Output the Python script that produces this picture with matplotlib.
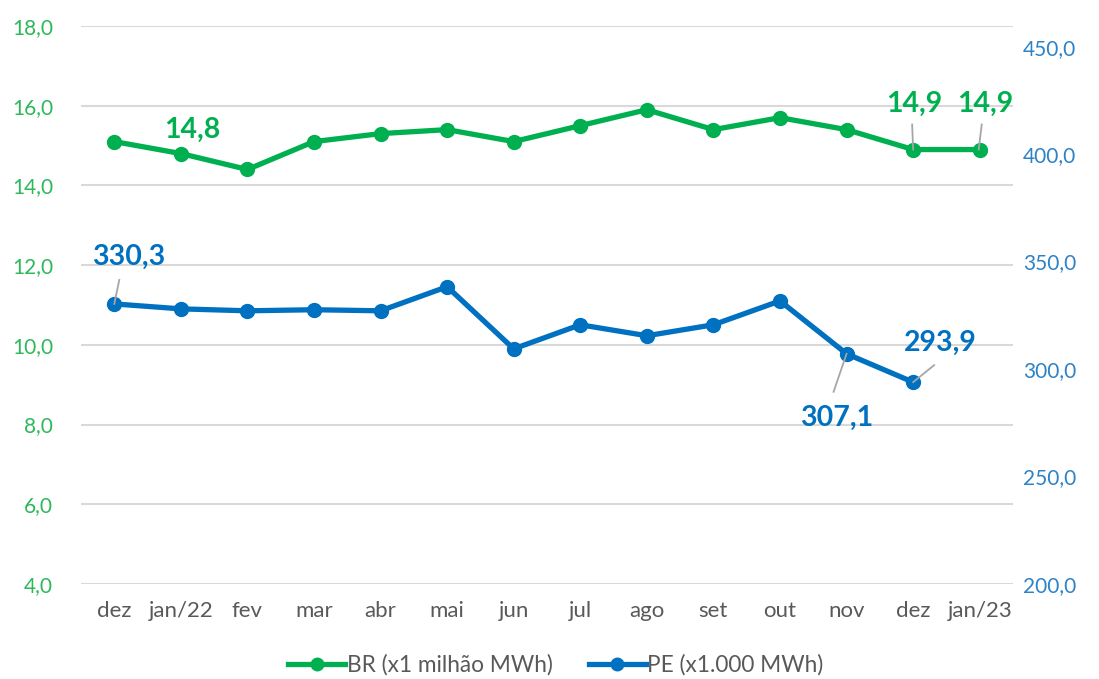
import matplotlib
matplotlib.use("Agg")
import matplotlib.pyplot as plt
from matplotlib.ticker import FuncFormatter
from matplotlib.lines import Line2D

months = ["dez", "jan/22", "fev", "mar", "abr", "mai", "jun", "jul", "ago", "set", "out", "nov", "dez", "jan/23"]
br = [15.1, 14.8, 14.4, 15.1, 15.3, 15.4, 15.1, 15.5, 15.9, 15.4, 15.7, 15.4, 14.9, 14.9]
pe = [330.3, 328.0, 327.1, 327.6, 327.1, 338.3, 309.4, 320.6, 315.5, 320.6, 331.7, 307.1, 293.9]

GREEN = "#00B050"
BLUE = "#0070C0"
plt.rcParams['font.family'] = ['Lato', 'DejaVu Sans']

fig = plt.figure(figsize=(10.99, 6.79), dpi=100)
ax = fig.add_axes([81/1099, 1-584/679, (1013-81)/1099, (584-26)/679])
ax2 = ax.twinx()

x = list(range(len(months)))
ax.plot(x, br, color=GREEN, lw=3.8, marker='o', ms=10, solid_capstyle='round', zorder=3)
ax2.plot(x[:len(pe)], pe, color=BLUE, lw=3.8, marker='o', ms=10, solid_capstyle='round', zorder=3)

ax.set_xlim(-0.5, len(months)-0.5)
ax.set_ylim(4, 18)
ax.set_yticks([4, 6, 8, 10, 12, 14, 16, 18])
ax2.set_ylim(200, 459.6)
ax2.set_yticks([200, 250, 300, 350, 400, 450])
fmt1 = FuncFormatter(lambda v, p: f"{v:.1f}".replace('.', ','))
ax.yaxis.set_major_formatter(fmt1)
ax2.yaxis.set_major_formatter(fmt1)
ax.set_xticks(x)
ax.set_xticklabels(months)

ax.grid(axis='y', color='#D9D9D9', lw=1.5)
ax.set_axisbelow(True)
for a in (ax, ax2):
    for s in a.spines.values():
        s.set_visible(False)
ax.tick_params(axis='y', length=0, pad=20, labelsize=15, labelcolor='#2DB85A')
ax2.tick_params(axis='y', length=0, pad=7, labelsize=15, labelcolor='#2E82C6')
ax.tick_params(axis='x', length=0, pad=12, labelsize=16, labelcolor='#595959')

lc = '#A6A6A6'
def lab(a, i, vals, txt_xy, color, leader=None):
    v = vals[i]
    txt = f"{v:.1f}".replace('.', ',')
    a.annotate(txt, xy=(i, v), xytext=txt_xy, textcoords='offset pixels',
               ha='center', va='center', fontsize=20.5, fontweight='bold', color=color, zorder=5)
    if leader is not None:
        (x0, y0), (x1, y1) = leader
        p0 = a.transData.transform((i, v))
        inv = a.transData.inverted()
        q0 = inv.transform((p0[0] + x0, p0[1] + y0))
        q1 = inv.transform((p0[0] + x1, p0[1] + y1))
        a.plot([q0[0], q1[0]], [q0[1], q1[1]], color=lc, lw=1.3, zorder=4)

fig.canvas.draw()
lab(ax2, 0, pe, (14, 47), BLUE, ((0, 0), (5, 24)))
lab(ax, 1, br, (11, 24), GREEN)
lab(ax, 12, br, (1, 46), GREEN, ((0, 0), (-1, 25)))
lab(ax, 13, br, (6, 46), GREEN, ((-1, 0), (2, 25)))
lab(ax2, 11, pe, (-10, -64), BLUE, ((0, 0), (-13, -38)))
lab(ax2, 12, pe, (27, 39), BLUE, ((0, 0), (21, 17)))

h = [Line2D([], [], color=GREEN, lw=3.8, marker='o', ms=9),
     Line2D([], [], color=BLUE, lw=3.8, marker='o', ms=9)]
fig.legend(h, ["BR (x1 milhão MWh)", "PE (x1.000 MWh)"], loc='center',
           bbox_to_anchor=(556/1099, 1-665/679), ncol=2, frameon=False,
           fontsize=16.3, labelcolor='#595959', handlelength=2.5, handletextpad=0.08,
           columnspacing=1.6)

fig.savefig("out.png", dpi=100)
